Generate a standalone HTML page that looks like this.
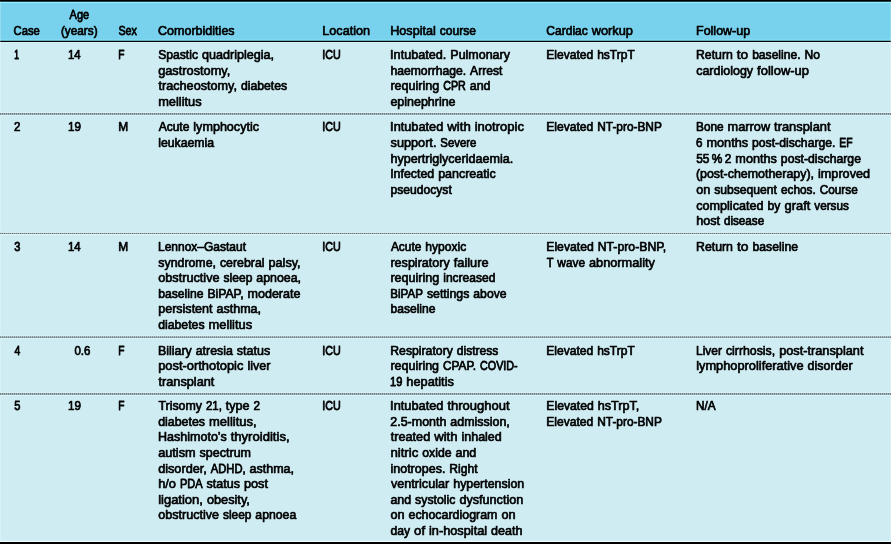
<!DOCTYPE html>
<html lang="en"><head><meta charset="utf-8"><title>Table</title>
<style>html,body{margin:0;padding:0;background:#cfecf3;overflow:hidden}svg{display:block}text{font-family:"Liberation Sans", sans-serif;font-size:12.8px;fill:#000;stroke:#000;stroke-linejoin:round}</style></head><body>
<svg width="891" height="544" viewBox="0 0 891 544">
<rect x="0" y="0" width="891" height="544" fill="#cfecf3"/>
<rect x="0" y="0" width="891" height="41" fill="#79d2ed"/>
<rect x="0" y="2" width="891" height="1" fill="#8ff4fd"/><rect x="0" y="0" width="891" height="1.7" fill="#000"/>
<rect x="0" y="39" width="891" height="1.5" fill="#7fd9f3"/><rect x="0" y="42" width="891" height="1" fill="#d8f1f6"/><rect x="0" y="40.8" width="891" height="1.2" fill="#000"/>
<rect x="0" y="540.8" width="891" height="1.2" fill="#effdfe"/><rect x="0" y="542" width="891" height="2" fill="#000"/><rect x="0" y="1.7" width="1" height="540.3" fill="#fff" fill-opacity="0.22"/><rect x="890" y="1.7" width="1" height="540.3" fill="#fff" fill-opacity="0.22"/>
<rect x="0" y="112.40" width="891" height="1" fill="#e6f9fc" fill-opacity="0.8"/>
<rect x="0" y="114.50" width="891" height="1" fill="#e6f9fc" fill-opacity="0.8"/>
<line x1="0" x2="891" y1="113.95" y2="113.95" stroke="#6f8187" stroke-width="1.00"/>
<line x1="0" x2="891" y1="113.95" y2="113.95" stroke="#46535a" stroke-width="1.00" stroke-dasharray="1 1"/>
<rect x="0" y="231.90" width="891" height="1" fill="#e6f9fc" fill-opacity="0.8"/>
<rect x="0" y="234.00" width="891" height="1" fill="#e6f9fc" fill-opacity="0.8"/>
<line x1="0" x2="891" y1="233.45" y2="233.45" stroke="#6f8187" stroke-width="0.65"/>
<line x1="0" x2="891" y1="233.45" y2="233.45" stroke="#46535a" stroke-width="0.65" stroke-dasharray="1 1"/>
<rect x="0" y="335.55" width="891" height="1" fill="#e6f9fc" fill-opacity="0.8"/>
<rect x="0" y="337.65" width="891" height="1" fill="#e6f9fc" fill-opacity="0.8"/>
<line x1="0" x2="891" y1="337.10" y2="337.10" stroke="#6f8187" stroke-width="0.90"/>
<line x1="0" x2="891" y1="337.10" y2="337.10" stroke="#46535a" stroke-width="0.90" stroke-dasharray="1 1"/>
<rect x="0" y="392.42" width="891" height="1" fill="#e6f9fc" fill-opacity="0.8"/>
<rect x="0" y="394.52" width="891" height="1" fill="#e6f9fc" fill-opacity="0.8"/>
<line x1="0" x2="891" y1="393.97" y2="393.97" stroke="#6f8187" stroke-width="1.00"/>
<line x1="0" x2="891" y1="393.97" y2="393.97" stroke="#46535a" stroke-width="1.00" stroke-dasharray="1 1"/>
<g>
<text transform="translate(13.56 34.65) scale(0.8808 1)" stroke-width="0.749">Case</text>
<text transform="translate(69.61 19.25) scale(0.8563 1)" stroke-width="0.771">Age</text>
<text transform="translate(60.90 34.65) scale(0.9218 1)" stroke-width="0.716">(years)</text>
<text transform="translate(118.39 34.65) scale(0.8433 1)" stroke-width="0.783">Sex</text>
<text transform="translate(158.04 34.65) scale(0.9795 1)" stroke-width="0.674">Comorbidities</text>
<text transform="translate(322.25 34.65) scale(0.9877 1)" stroke-width="0.668">Location</text>
<text transform="translate(390.25 34.65) scale(0.9850 1)" stroke-width="0.670">Hospital </text>
<text transform="translate(439.72 34.65) scale(0.9447 1)" stroke-width="0.699">course</text>
<text transform="translate(546.32 34.65) scale(0.9406 1)" stroke-width="0.702">Cardiac </text>
<text transform="translate(591.73 34.65) scale(1.0005 1)" stroke-width="0.660">workup</text>
<text transform="translate(696.00 34.65) scale(0.9778 1)" stroke-width="0.675">Follow-up</text>
<text transform="translate(14.34 59.00) scale(0.6598 1)" stroke-width="1.000">1</text>
<text transform="translate(68.01 59.00) scale(0.8918 1)" stroke-width="0.740">14</text>
<text transform="translate(118.29 59.00) scale(0.7978 1)" stroke-width="0.827">F</text>
<text transform="translate(158.13 59.00) scale(0.9509 1)" stroke-width="0.694">Spastic </text>
<text transform="translate(201.99 59.00) scale(0.9840 1)" stroke-width="0.671">quadriplegia,</text>
<text transform="translate(158.15 74.57) scale(0.9989 1)" stroke-width="0.661">gastrostomy,</text>
<text transform="translate(158.49 90.14) scale(0.9882 1)" stroke-width="0.668">tracheostomy, </text>
<text transform="translate(240.89 90.14) scale(0.9564 1)" stroke-width="0.690">diabetes</text>
<text transform="translate(158.17 105.71) scale(1.0031 1)" stroke-width="0.658">mellitus</text>
<text transform="translate(322.31 59.00) scale(0.8390 1)" stroke-width="0.787">ICU</text>
<text transform="translate(390.11 59.00) scale(0.9892 1)" stroke-width="0.667">Intubated. </text>
<text transform="translate(450.35 59.00) scale(0.9752 1)" stroke-width="0.677">Pulmonary</text>
<text transform="translate(390.43 74.57) scale(0.9512 1)" stroke-width="0.694">haemorrhage. </text>
<text transform="translate(470.12 74.57) scale(0.9432 1)" stroke-width="0.700">Arrest</text>
<text transform="translate(390.45 90.14) scale(0.9797 1)" stroke-width="0.674">requiring </text>
<text transform="translate(443.17 90.14) scale(0.8377 1)" stroke-width="0.788">CPR </text>
<text transform="translate(469.75 90.14) scale(0.9730 1)" stroke-width="0.678">and</text>
<text transform="translate(390.40 105.71) scale(0.9737 1)" stroke-width="0.678">epinephrine</text>
<text transform="translate(546.29 59.00) scale(0.9421 1)" stroke-width="0.701">Elevated </text>
<text transform="translate(597.13 59.00) scale(0.9392 1)" stroke-width="0.703">hsTrpT</text>
<text transform="translate(696.02 59.00) scale(0.9575 1)" stroke-width="0.689">Return </text>
<text transform="translate(736.73 59.00) scale(1.0764 1)" stroke-width="0.613">to </text>
<text transform="translate(752.15 59.00) scale(0.9457 1)" stroke-width="0.698">baseline. </text>
<text transform="translate(804.52 59.00) scale(0.9447 1)" stroke-width="0.699">No</text>
<text transform="translate(696.15 74.57) scale(0.9775 1)" stroke-width="0.675">cardiology </text>
<text transform="translate(757.10 74.57) scale(1.0137 1)" stroke-width="0.651">follow-up</text>
<text transform="translate(14.05 131.30) scale(0.8989 1)" stroke-width="0.734">2</text>
<text transform="translate(67.99 131.30) scale(0.9081 1)" stroke-width="0.727">19</text>
<text transform="translate(118.15 131.30) scale(0.9334 1)" stroke-width="0.707">M</text>
<text transform="translate(158.66 131.30) scale(0.9394 1)" stroke-width="0.703">Acute </text>
<text transform="translate(193.31 131.30) scale(0.9836 1)" stroke-width="0.671">lymphocytic</text>
<text transform="translate(158.19 146.97) scale(0.9605 1)" stroke-width="0.687">leukaemia</text>
<text transform="translate(322.31 131.30) scale(0.8390 1)" stroke-width="0.787">ICU</text>
<text transform="translate(390.10 131.30) scale(0.9980 1)" stroke-width="0.661">Intubated </text>
<text transform="translate(447.30 131.30) scale(1.0321 1)" stroke-width="0.639">with </text>
<text transform="translate(474.72 131.30) scale(1.0202 1)" stroke-width="0.647">inotropic</text>
<text transform="translate(390.57 146.97) scale(0.9921 1)" stroke-width="0.665">support. </text>
<text transform="translate(440.36 146.97) scale(0.8908 1)" stroke-width="0.741">Severe</text>
<text transform="translate(390.42 162.64) scale(0.9822 1)" stroke-width="0.672">hypertriglyceridaemia.</text>
<text transform="translate(390.14 178.31) scale(0.9682 1)" stroke-width="0.682">Infected </text>
<text transform="translate(438.17 178.31) scale(0.9761 1)" stroke-width="0.676">pancreatic</text>
<text transform="translate(390.49 193.98) scale(0.9472 1)" stroke-width="0.697">pseudocyst</text>
<text transform="translate(546.29 131.30) scale(0.9446 1)" stroke-width="0.699">Elevated </text>
<text transform="translate(597.27 131.30) scale(0.9268 1)" stroke-width="0.712">NT-pro-BNP</text>
<text transform="translate(696.06 131.30) scale(0.9244 1)" stroke-width="0.714">Bone </text>
<text transform="translate(727.62 131.30) scale(0.9965 1)" stroke-width="0.662">marrow </text>
<text transform="translate(774.06 131.30) scale(1.0055 1)" stroke-width="0.656">transplant</text>
<text transform="translate(696.09 146.97) scale(0.9071 1)" stroke-width="0.728">6 </text>
<text transform="translate(706.48 146.97) scale(0.9916 1)" stroke-width="0.666">months </text>
<text transform="translate(752.03 146.97) scale(0.9534 1)" stroke-width="0.692">post-discharge. </text>
<text transform="translate(839.37 146.97) scale(0.8111 1)" stroke-width="0.814">EF</text>
<text transform="translate(696.20 162.64) scale(0.9299 1)" stroke-width="0.710">55 % 2 </text>
<text transform="translate(735.33 162.64) scale(0.9909 1)" stroke-width="0.666">months </text>
<text transform="translate(780.85 162.64) scale(0.9551 1)" stroke-width="0.691">post-discharge</text>
<text transform="translate(695.91 178.31) scale(0.9715 1)" stroke-width="0.679">(post-chemotherapy), </text>
<text transform="translate(818.01 178.31) scale(0.9886 1)" stroke-width="0.668">improved</text>
<text transform="translate(696.15 193.98) scale(0.9911 1)" stroke-width="0.666">on </text>
<text transform="translate(714.19 193.98) scale(0.9501 1)" stroke-width="0.695">subsequent </text>
<text transform="translate(780.99 193.98) scale(0.9226 1)" stroke-width="0.715">echos. </text>
<text transform="translate(819.71 193.98) scale(0.9221 1)" stroke-width="0.716">Course</text>
<text transform="translate(696.14 209.65) scale(0.9879 1)" stroke-width="0.668">complicated </text>
<text transform="translate(767.53 209.65) scale(0.9613 1)" stroke-width="0.687">by </text>
<text transform="translate(784.45 209.65) scale(1.0110 1)" stroke-width="0.653">graft </text>
<text transform="translate(814.27 209.65) scale(0.9188 1)" stroke-width="0.718">versus</text>
<text transform="translate(696.15 225.32) scale(0.9857 1)" stroke-width="0.670">host </text>
<text transform="translate(723.92 225.32) scale(0.9140 1)" stroke-width="0.722">disease</text>
<text transform="translate(14.21 251.00) scale(0.8637 1)" stroke-width="0.764">3</text>
<text transform="translate(68.01 251.00) scale(0.8918 1)" stroke-width="0.740">14</text>
<text transform="translate(118.15 251.00) scale(0.9334 1)" stroke-width="0.707">M</text>
<text transform="translate(158.04 251.00) scale(0.9372 1)" stroke-width="0.704">Lennox–Gastaut</text>
<text transform="translate(158.34 266.57) scale(0.9652 1)" stroke-width="0.684">syndrome, </text>
<text transform="translate(219.95 266.57) scale(0.9648 1)" stroke-width="0.684">cerebral </text>
<text transform="translate(268.50 266.57) scale(0.9886 1)" stroke-width="0.668">palsy,</text>
<text transform="translate(158.15 282.14) scale(0.9938 1)" stroke-width="0.664">obstructive </text>
<text transform="translate(223.60 282.14) scale(0.9401 1)" stroke-width="0.702">sleep </text>
<text transform="translate(256.31 282.14) scale(0.9678 1)" stroke-width="0.682">apnoea,</text>
<text transform="translate(158.25 297.71) scale(0.9497 1)" stroke-width="0.695">baseline </text>
<text transform="translate(207.45 297.71) scale(0.9510 1)" stroke-width="0.694">BiPAP, </text>
<text transform="translate(247.46 297.71) scale(0.9816 1)" stroke-width="0.672">moderate</text>
<text transform="translate(158.23 313.28) scale(0.9793 1)" stroke-width="0.674">persistent </text>
<text transform="translate(216.51 313.28) scale(0.9795 1)" stroke-width="0.674">asthma,</text>
<text transform="translate(158.16 328.85) scale(0.9592 1)" stroke-width="0.688">diabetes </text>
<text transform="translate(208.50 328.85) scale(1.0070 1)" stroke-width="0.655">mellitus</text>
<text transform="translate(322.31 251.00) scale(0.8390 1)" stroke-width="0.787">ICU</text>
<text transform="translate(390.91 251.00) scale(0.9316 1)" stroke-width="0.708">Acute </text>
<text transform="translate(425.27 251.00) scale(0.9454 1)" stroke-width="0.698">hypoxic</text>
<text transform="translate(390.44 266.57) scale(0.9824 1)" stroke-width="0.672">respiratory </text>
<text transform="translate(453.75 266.57) scale(0.9982 1)" stroke-width="0.661">failure</text>
<text transform="translate(390.45 282.14) scale(0.9802 1)" stroke-width="0.673">requiring </text>
<text transform="translate(443.20 282.14) scale(0.9426 1)" stroke-width="0.700">increased</text>
<text transform="translate(390.33 297.71) scale(0.9052 1)" stroke-width="0.729">BiPAP </text>
<text transform="translate(426.88 297.71) scale(0.9646 1)" stroke-width="0.684">settings </text>
<text transform="translate(473.36 297.71) scale(0.9509 1)" stroke-width="0.694">above</text>
<text transform="translate(390.50 313.28) scale(0.9442 1)" stroke-width="0.699">baseline</text>
<text transform="translate(546.29 251.00) scale(0.9525 1)" stroke-width="0.693">Elevated </text>
<text transform="translate(597.69 251.00) scale(0.9588 1)" stroke-width="0.688">NT-pro-BNP,</text>
<text transform="translate(546.68 266.57) scale(0.8661 1)" stroke-width="0.762">T </text>
<text transform="translate(557.35 266.57) scale(0.9283 1)" stroke-width="0.711">wave </text>
<text transform="translate(588.99 266.57) scale(0.9979 1)" stroke-width="0.661">abnormality</text>
<text transform="translate(696.02 251.00) scale(0.9632 1)" stroke-width="0.685">Return </text>
<text transform="translate(736.97 251.00) scale(1.0828 1)" stroke-width="0.610">to </text>
<text transform="translate(752.48 251.00) scale(0.9551 1)" stroke-width="0.691">baseline</text>
<text transform="translate(14.39 354.60) scale(0.8126 1)" stroke-width="0.812">4</text>
<text transform="translate(74.43 354.60) scale(0.8962 1)" stroke-width="0.736">0.6</text>
<text transform="translate(118.29 354.60) scale(0.7978 1)" stroke-width="0.827">F</text>
<text transform="translate(158.01 354.60) scale(0.9698 1)" stroke-width="0.681">Biliary </text>
<text transform="translate(195.73 354.60) scale(0.9654 1)" stroke-width="0.684">atresia </text>
<text transform="translate(236.75 354.60) scale(0.9790 1)" stroke-width="0.674">status</text>
<text transform="translate(158.20 370.17) scale(1.0076 1)" stroke-width="0.655">post-orthotopic </text>
<text transform="translate(247.41 370.17) scale(0.9811 1)" stroke-width="0.673">liver</text>
<text transform="translate(158.49 385.74) scale(0.9934 1)" stroke-width="0.664">transplant</text>
<text transform="translate(322.31 354.60) scale(0.8390 1)" stroke-width="0.787">ICU</text>
<text transform="translate(390.27 354.60) scale(0.9564 1)" stroke-width="0.690">Respiratory </text>
<text transform="translate(456.78 354.60) scale(0.9441 1)" stroke-width="0.699">distress</text>
<text transform="translate(390.45 370.17) scale(0.9769 1)" stroke-width="0.676">requiring </text>
<text transform="translate(443.02 370.17) scale(0.9219 1)" stroke-width="0.716">CPAP. </text>
<text transform="translate(479.96 370.17) scale(0.8426 1)" stroke-width="0.783">COVID-</text>
<text transform="translate(390.08 385.74) scale(0.8682 1)" stroke-width="0.760">19 </text>
<text transform="translate(406.37 385.74) scale(0.9978 1)" stroke-width="0.661">hepatitis</text>
<text transform="translate(546.29 354.60) scale(0.9421 1)" stroke-width="0.701">Elevated </text>
<text transform="translate(597.13 354.60) scale(0.9392 1)" stroke-width="0.703">hsTrpT</text>
<text transform="translate(696.05 354.60) scale(0.9338 1)" stroke-width="0.707">Liver </text>
<text transform="translate(725.88 354.60) scale(0.9638 1)" stroke-width="0.685">cirrhosis, </text>
<text transform="translate(779.15 354.60) scale(0.9972 1)" stroke-width="0.662">post-transplant</text>
<text transform="translate(696.17 370.17) scale(1.0011 1)" stroke-width="0.659">lymphoproliferative </text>
<text transform="translate(807.62 370.17) scale(0.9745 1)" stroke-width="0.677">disorder</text>
<text transform="translate(14.19 410.05) scale(0.8637 1)" stroke-width="0.764">5</text>
<text transform="translate(67.99 410.05) scale(0.9081 1)" stroke-width="0.727">19</text>
<text transform="translate(118.29 410.05) scale(0.7978 1)" stroke-width="0.827">F</text>
<text transform="translate(158.40 410.05) scale(0.9690 1)" stroke-width="0.681">Trisomy </text>
<text transform="translate(205.96 410.05) scale(0.8925 1)" stroke-width="0.739">21, </text>
<text transform="translate(225.78 410.05) scale(0.9844 1)" stroke-width="0.670">type </text>
<text transform="translate(253.53 410.05) scale(0.9182 1)" stroke-width="0.719">2</text>
<text transform="translate(158.16 425.68) scale(0.9687 1)" stroke-width="0.681">diabetes </text>
<text transform="translate(209.00 425.68) scale(1.0150 1)" stroke-width="0.650">mellitus,</text>
<text transform="translate(158.01 441.30) scale(0.9783 1)" stroke-width="0.675">Hashimoto’s </text>
<text transform="translate(230.63 441.30) scale(1.0245 1)" stroke-width="0.644">thyroiditis,</text>
<text transform="translate(158.14 456.93) scale(0.9944 1)" stroke-width="0.664">autism </text>
<text transform="translate(199.55 456.93) scale(0.9785 1)" stroke-width="0.675">spectrum</text>
<text transform="translate(158.15 472.55) scale(0.9921 1)" stroke-width="0.665">disorder, </text>
<text transform="translate(210.79 472.55) scale(0.8755 1)" stroke-width="0.754">ADHD, </text>
<text transform="translate(249.59 472.55) scale(0.9777 1)" stroke-width="0.675">asthma,</text>
<text transform="translate(158.14 488.18) scale(1.0056 1)" stroke-width="0.656">h/o </text>
<text transform="translate(179.96 488.18) scale(0.8607 1)" stroke-width="0.767">PDA </text>
<text transform="translate(206.54 488.18) scale(0.9792 1)" stroke-width="0.674">status </text>
<text transform="translate(243.90 488.18) scale(0.9988 1)" stroke-width="0.661">post</text>
<text transform="translate(158.16 503.80) scale(1.0153 1)" stroke-width="0.650">ligation, </text>
<text transform="translate(206.89 503.80) scale(0.9960 1)" stroke-width="0.663">obesity,</text>
<text transform="translate(158.15 519.42) scale(0.9841 1)" stroke-width="0.671">obstructive </text>
<text transform="translate(222.96 519.42) scale(0.9310 1)" stroke-width="0.709">sleep </text>
<text transform="translate(255.36 519.42) scale(0.9568 1)" stroke-width="0.690">apnoea</text>
<text transform="translate(322.31 410.05) scale(0.8390 1)" stroke-width="0.787">ICU</text>
<text transform="translate(390.10 410.05) scale(0.9999 1)" stroke-width="0.660">Intubated </text>
<text transform="translate(447.41 410.05) scale(1.0158 1)" stroke-width="0.650">throughout</text>
<text transform="translate(390.31 425.68) scale(0.9734 1)" stroke-width="0.678">2.5-month </text>
<text transform="translate(450.34 425.68) scale(0.9727 1)" stroke-width="0.679">admission,</text>
<text transform="translate(390.74 441.30) scale(0.9913 1)" stroke-width="0.666">treated </text>
<text transform="translate(434.15 441.30) scale(1.0287 1)" stroke-width="0.642">with </text>
<text transform="translate(461.49 441.30) scale(0.9762 1)" stroke-width="0.676">inhaled</text>
<text transform="translate(390.40 456.93) scale(1.0341 1)" stroke-width="0.638">nitric </text>
<text transform="translate(422.29 456.93) scale(0.9559 1)" stroke-width="0.690">oxide </text>
<text transform="translate(455.48 456.93) scale(0.9741 1)" stroke-width="0.678">and</text>
<text transform="translate(390.44 472.55) scale(0.9783 1)" stroke-width="0.675">inotropes. </text>
<text transform="translate(449.32 472.55) scale(0.9452 1)" stroke-width="0.698">Right</text>
<text transform="translate(390.89 488.18) scale(0.9897 1)" stroke-width="0.667">ventricular </text>
<text transform="translate(453.24 488.18) scale(0.9695 1)" stroke-width="0.681">hypertension</text>
<text transform="translate(390.40 503.80) scale(0.9716 1)" stroke-width="0.679">and </text>
<text transform="translate(415.08 503.80) scale(0.9648 1)" stroke-width="0.684">systolic </text>
<text transform="translate(459.49 503.80) scale(0.9855 1)" stroke-width="0.670">dysfunction</text>
<text transform="translate(390.40 519.42) scale(0.9934 1)" stroke-width="0.664">on </text>
<text transform="translate(408.48 519.42) scale(0.9697 1)" stroke-width="0.681">echocardiogram </text>
<text transform="translate(501.41 519.42) scale(0.9934 1)" stroke-width="0.664">on</text>
<text transform="translate(390.42 535.05) scale(0.9527 1)" stroke-width="0.693">day </text>
<text transform="translate(414.02 535.05) scale(1.0349 1)" stroke-width="0.638">of </text>
<text transform="translate(429.00 535.05) scale(0.9973 1)" stroke-width="0.662">in-hospital </text>
<text transform="translate(491.11 535.05) scale(0.9813 1)" stroke-width="0.673">death</text>
<text transform="translate(546.29 410.05) scale(0.9536 1)" stroke-width="0.692">Elevated </text>
<text transform="translate(597.75 410.05) scale(0.9861 1)" stroke-width="0.669">hsTrpT,</text>
<text transform="translate(546.29 425.68) scale(0.9446 1)" stroke-width="0.699">Elevated </text>
<text transform="translate(597.27 425.68) scale(0.9268 1)" stroke-width="0.712">NT-pro-BNP</text>
<text transform="translate(696.07 410.05) scale(0.9223 1)" stroke-width="0.716">N/A</text>
</g>
</svg></body></html>
